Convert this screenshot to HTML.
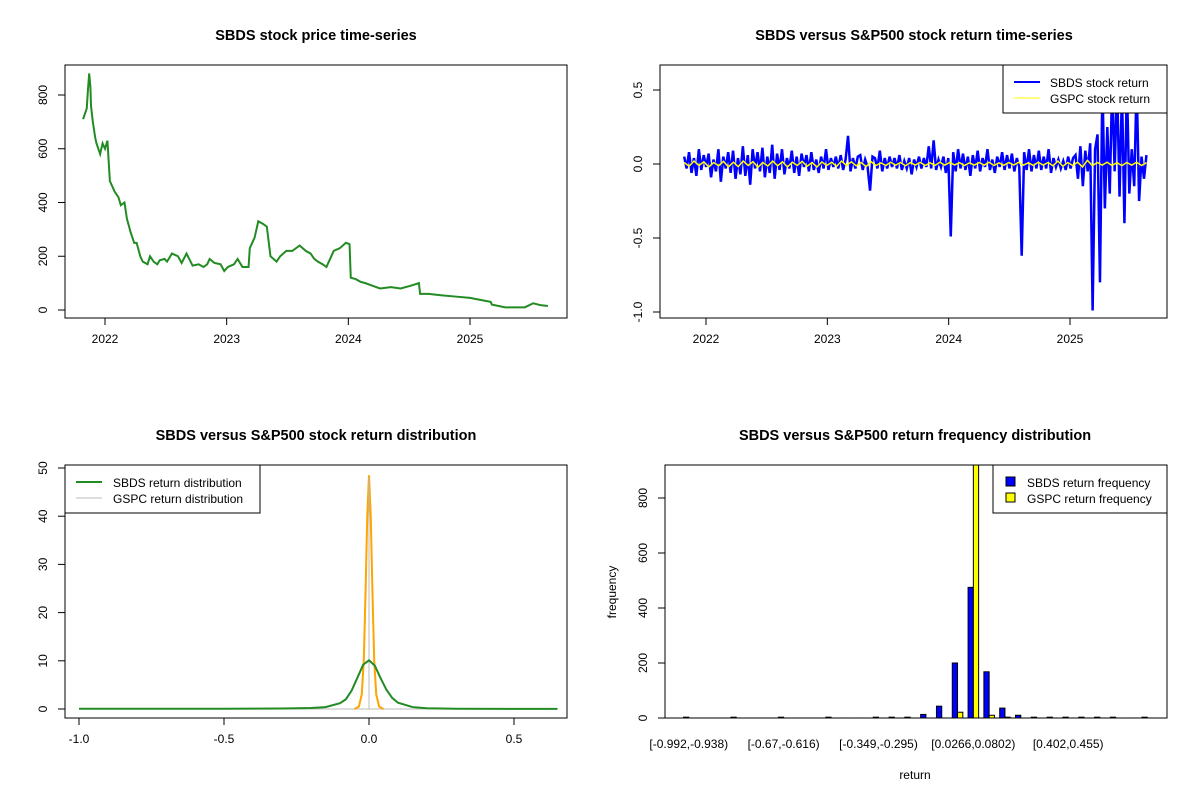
<!DOCTYPE html>
<html><head><meta charset="utf-8"><style>
body{margin:0;background:#fff}
text{font-family:"Liberation Sans",sans-serif;fill:#000}
</style></head><body>
<svg id="s" width="1200" height="800" xmlns="http://www.w3.org/2000/svg">
<defs>
<clipPath id="c1"><rect x="65" y="65" width="502" height="253"/></clipPath>
<clipPath id="c2"><rect x="660" y="65" width="507" height="253"/></clipPath>
<clipPath id="c3"><rect x="65" y="465" width="502" height="253"/></clipPath>
<clipPath id="c4"><rect x="665" y="465" width="502" height="253"/></clipPath>
</defs>
</svg>
<script>
const priceYears=[2021.82,2021.85,2021.86,2021.87,2021.88,2021.885,2021.90,2021.92,2021.93,2021.96,2021.98,2022.0,2022.02,2022.04,2022.07,2022.08,2022.11,2022.13,2022.16,2022.18,2022.21,2022.24,2022.26,2022.29,2022.31,2022.35,2022.37,2022.40,2022.43,2022.45,2022.49,2022.51,2022.55,2022.60,2022.63,2022.67,2022.72,2022.77,2022.81,2022.84,2022.86,2022.90,2022.95,2022.98,2023.01,2023.06,2023.09,2023.13,2023.18,2023.19,2023.23,2023.26,2023.30,2023.33,2023.36,2023.41,2023.44,2023.49,2023.54,2023.60,2023.65,2023.69,2023.72,2023.75,2023.79,2023.82,2023.85,2023.88,2023.93,2023.98,2024.01,2024.02,2024.06,2024.10,2024.14,2024.20,2024.26,2024.35,2024.43,2024.51,2024.58,2024.59,2024.66,2024.76,2024.88,2025.0,2025.17,2025.18,2025.29,2025.45,2025.52,2025.58,2025.64];
const prices=[710,750,820,880,830,760,700,640,620,580,620,600,630,480,450,440,420,390,400,340,290,250,250,200,180,170,200,180,170,185,190,180,210,200,175,210,165,170,160,170,190,175,170,145,160,170,190,160,160,230,270,330,320,310,200,180,200,220,220,240,220,210,190,180,170,160,190,220,230,250,245,120,115,105,100,90,80,85,80,90,100,60,60,55,50,45,30,20,10,10,25,18,15];
const priceTicks=[0,200,400,600,800];
const yearTicks=[2022,2023,2024,2025];
const retStart=2021.82, retEnd=2025.63;
const sbdsRet=[0.05,-0.03,0.08,-0.06,0.04,-0.08,0.1,-0.04,0.06,-0.02,0.07,-0.09,0.03,-0.05,0.1,-0.12,0.05,-0.03,0.08,-0.06,0.09,-0.1,0.04,-0.07,0.12,-0.08,0.06,-0.14,0.1,-0.03,0.08,-0.05,0.11,-0.09,0.05,-0.06,0.13,-0.1,0.07,-0.04,0.1,-0.07,0.04,-0.03,0.09,-0.06,0.05,-0.08,0.07,-0.02,0.06,-0.05,0.08,-0.04,0.03,-0.06,0.05,-0.03,0.1,-0.04,
0.04,-0.02,0.05,-0.03,0.06,-0.04,0.03,0.19,-0.05,0.04,-0.03,0.05,0.06,-0.04,0.03,-0.02,-0.18,0.05,0.04,-0.03,0.09,-0.05,0.04,-0.03,0.05,-0.02,0.04,-0.03,0.06,-0.04,0.02,-0.03,0.04,-0.07,0.03,-0.02,0.05,-0.03,0.04,-0.02,0.12,-0.03,0.16,-0.04,0.03,-0.02,0.05,-0.06,0.04,
-0.49,
0.08,-0.05,0.1,-0.03,0.07,-0.04,0.05,-0.08,0.06,-0.03,0.09,-0.05,0.04,-0.02,0.1,-0.04,0.03,-0.06,0.05,-0.02,0.08,-0.04,0.06,-0.03,0.07,-0.05,0.04,-0.02,
-0.62,
0.08,-0.04,0.1,-0.05,0.06,-0.03,0.09,-0.04,0.05,-0.03,0.1,-0.06,0.04,-0.02,0.03,-0.03,0.02,-0.04,0.05,-0.03,0.04,
0.06,-0.1,0.12,-0.15,0.09,-0.05,0.14,-0.99,0.1,0.2,-0.8,0.55,-0.3,0.25,-0.2,0.55,-0.05,0.55,-0.22,0.5,-0.4,0.55,-0.2,0.1,-0.15,0.55,-0.25,0.05,-0.1,0.06];
const gspcRet=[0.01,-0.015,0.02,-0.01,0.015,-0.02,0.01,-0.012,0.018,-0.02,0.012,-0.018,0.02,-0.01,0.016,-0.022,0.01,-0.014,0.02,-0.012,0.015,-0.02,0.012,-0.01,0.018,-0.015,0.01,-0.02,0.014,-0.01,0.012,-0.016,0.02,-0.01,0.015,-0.012,0.01,-0.018,0.016,-0.01,0.008,-0.01,0.012,-0.008,0.01,-0.012,0.009,-0.007,0.011,-0.01,0.008,-0.009,0.012,-0.008,0.01,-0.006,0.009,-0.01,0.008,-0.007,0.01,-0.008,0.012,-0.01,0.008,-0.009,0.01,-0.007,0.011,-0.008,0.009,-0.01,0.012,-0.008,0.01,-0.012,0.02,-0.015,0.01,-0.01,0.012,-0.02,0.025,-0.012,0.01,-0.008,0.012,-0.01,0.009,-0.011,0.01,-0.008,0.012,-0.01,0.009];
const retTicks=[0.5,0,-0.5,-1];
const retTickLabels=["0.5","0.0","-0.5","-1.0"];
const sbdsDensX=[-1.0,-0.5,-0.3,-0.2,-0.15,-0.1,-0.08,-0.06,-0.04,-0.02,0,0.02,0.04,0.06,0.08,0.1,0.15,0.2,0.3,0.65];
const sbdsDensY=[0.05,0.05,0.1,0.2,0.4,1.2,2.0,3.8,6.5,9.2,10.1,9.0,6.4,4.0,2.3,1.3,0.4,0.15,0.05,0.02];
const gspcDensX=[-0.05,-0.035,-0.025,-0.018,-0.012,-0.006,0,0.006,0.012,0.018,0.025,0.035,0.05];
const gspcDensY=[0,0.5,3,10,24,40,48.5,40,24,10,3,0.5,0];
const densYTicks=[0,10,20,30,40,50];
const densXTicks=[-1,-0.5,0,0.5];
const densXLabels=["-1.0","-0.5","0.0","0.5"];
const sbdsFreq=[3,0,0,3,0,0,3,0,0,3,0,0,3,3,3,13,43,200,475,168,36,10,3,3,3,3,3,3,0,3];
const gspcFreq=[0,0,0,0,0,0,0,0,0,0,0,0,0,0,0,0,0,21,950,10,3,0,0,0,0,0,0,0,0,0];
const binLabels=["[-0.992,-0.938)","","","","","","[-0.67,-0.616)","","","","","","[-0.349,-0.295)","","","","","","[0.0266,0.0802)","","","","","","[0.402,0.455)","","","","",""];
const freqTicks=[0,200,400,600,800];

const S=document.getElementById('s');
const NS='http://www.w3.org/2000/svg';
function el(tag,attrs,parent,txt){const e=document.createElementNS(NS,tag);for(const k in attrs)e.setAttribute(k,attrs[k]);if(txt!==undefined)e.textContent=txt;(parent||S).appendChild(e);return e;}
function lin(d0,d1,r0,r1){return v=>r0+(v-d0)*(r1-r0)/(d1-d0);}
function grp(name){const g=el('g',{});return g;}
function title(x,y,t,name){const e=el('text',{x:x,y:y,'text-anchor':'middle','font-size':'14.5','font-weight':'bold'},S,t);}
function box(x,y,w,h,name){const e=el('rect',{x:x,y:y,width:w,height:h,fill:'none',stroke:'#000','stroke-width':1});}
function xAxis(ticks,labels,sx,yb,name){const g=grp(name);ticks.forEach((t,i)=>{const x=sx(t);el('line',{x1:x,x2:x,y1:yb,y2:yb+7,stroke:'#000'},g);el('text',{x:x,y:yb+25,'text-anchor':'middle','font-size':'12'},g,labels[i]);});const xs=ticks.map(sx);el('line',{x1:Math.min(...xs),x2:Math.max(...xs),y1:yb,y2:yb,stroke:'#000'},g);}
function yAxis(ticks,labels,sy,xl,name){const g=grp(name);ticks.forEach((t,i)=>{const y=sy(t);el('line',{x1:xl-7,x2:xl,y1:y,y2:y,stroke:'#000'},g);el('text',{x:xl-18,y:y,'text-anchor':'middle','font-size':'12',transform:`rotate(-90 ${xl-18} ${y})`},g,labels[i]);});const ys=ticks.map(sy);el('line',{x1:xl,x2:xl,y1:Math.min(...ys),y2:Math.max(...ys),stroke:'#000'},g);}

// Panel 1
title(316,40,'SBDS stock price time-series','price-chart-title');
{const sx=lin(2022,2025,105,470), sy=lin(0,800,310,95);
const g=grp('price-line-group');g.setAttribute('clip-path','url(#c1)');
const p=el('polyline',{points:priceYears.map((y,i)=>sx(y)+','+sy(prices[i])).join(' '),fill:'none',stroke:'#228b22','stroke-width':2},g);

box(65,65,502,253,'price-plot-box');
xAxis(yearTicks,yearTicks.map(String),sx,318,'price-x-axis');
yAxis(priceTicks,priceTicks.map(String),sy,65,'price-y-axis');}

// Panel 2
title(914,40,'SBDS versus S&P500 stock return time-series','return-chart-title');
{const sx=lin(2022,2025,706,1070), sy=lin(0,-1,164,312);
const g=grp('return-lines-group');g.setAttribute('clip-path','url(#c2)');
const n=sbdsRet.length;
const p1=el('polyline',{points:sbdsRet.map((v,i)=>sx(retStart+(retEnd-retStart)*i/(n-1))+','+sy(v)).join(' '),fill:'none',stroke:'#0000ff','stroke-width':2.5},g);

const m=gspcRet.length;
const p2=el('polyline',{points:gspcRet.map((v,i)=>sx(retStart+(retEnd-retStart)*i/(m-1))+','+sy(v)).join(' '),fill:'none',stroke:'#ffff00','stroke-width':1.5},g);

box(660,65,507,253,'return-plot-box');
xAxis(yearTicks,yearTicks.map(String),sx,318,'return-x-axis');
yAxis(retTicks,retTickLabels,sy,660,'return-y-axis');
const lg=grp('return-legend');
el('rect',{x:1003,y:65,width:164,height:48,fill:'#fff',stroke:'#000'},lg);
el('line',{x1:1014,x2:1040,y1:82,y2:82,stroke:'#0000ff','stroke-width':2},lg);
el('text',{x:1050,y:87,'font-size':'12'},lg,'SBDS stock return');
el('line',{x1:1014,x2:1040,y1:98,y2:98,stroke:'#ffff00','stroke-width':1},lg);
el('text',{x:1050,y:103,'font-size':'12'},lg,'GSPC stock return');}

// Panel 3
title(316,440,'SBDS versus S&P500 stock return distribution','density-chart-title');
{const sx=lin(0,1,369,659), sy=lin(0,50,709,468);
const g=grp('density-lines-group');g.setAttribute('clip-path','url(#c3)');
const b=el('line',{x1:sx(-1),x2:sx(0.65),y1:sy(0),y2:sy(0),stroke:'#bbbbbb','stroke-width':1},g);

const p2=el('polyline',{points:gspcDensX.map((x,i)=>sx(x)+','+sy(gspcDensY[i])).join(' '),fill:'none',stroke:'#ffa500','stroke-width':2},g);

const p3=el('line',{x1:sx(0),x2:sx(0),y1:sy(0),y2:sy(48),stroke:'#bbbbbb','stroke-width':1},g);

const p1=el('polyline',{points:sbdsDensX.map((x,i)=>sx(x)+','+sy(sbdsDensY[i])).join(' '),fill:'none',stroke:'#228b22','stroke-width':2},g);

box(65,465,502,253,'density-plot-box');
xAxis(densXTicks,densXLabels,sx,718,'density-x-axis');
yAxis(densYTicks,densYTicks.map(String),sy,65,'density-y-axis');
const lg=grp('density-legend');
el('rect',{x:65,y:465,width:195,height:48,fill:'#fff',stroke:'#000'},lg);
el('line',{x1:76,x2:102,y1:482,y2:482,stroke:'#228b22','stroke-width':2},lg);
el('text',{x:113,y:487,'font-size':'12'},lg,'SBDS return distribution');
el('line',{x1:76,x2:102,y1:498,y2:498,stroke:'#bbbbbb','stroke-width':1},lg);
el('text',{x:113,y:503,'font-size':'12'},lg,'GSPC return distribution');}

// Panel 4
title(915,440,'SBDS versus S&P500 return frequency distribution','histogram-chart-title');
{const u=5.27, x0=683.5-u, sy=lin(0,200,718,663);
const g=grp('histogram-bars');g.setAttribute('clip-path','url(#c4)');
const ax=grp('histogram-x-labels');
sbdsFreq.forEach((v,i)=>{const st=x0+u*(3*i+1);
 const hb=Math.max(sy(0)-sy(v),0.01);
 const b=el('rect',{x:st,y:sy(0)-hb,width:u,height:hb,fill:'#0000ff',stroke:'#000','stroke-width':1},g);
 
 const w=gspcFreq[i];
 const hy=Math.max(sy(0)-sy(w),0.01);
 const c=el('rect',{x:st+u,y:sy(0)-hy,width:u,height:hy,fill:'#ffff00',stroke:'#000','stroke-width':1},g);
 
 if(binLabels[i])el('text',{x:st+u,y:748,'text-anchor':'middle','font-size':'12'},ax,binLabels[i]);});
box(665,465,502,253,'histogram-plot-box');
yAxis(freqTicks,freqTicks.map(String),sy,665,'histogram-y-axis');
const xl=el('text',{x:915,y:779,'text-anchor':'middle','font-size':'12'},S,'return');
const yl=el('text',{x:616,y:592,'text-anchor':'middle','font-size':'12',transform:'rotate(-90 616 592)'},S,'frequency');
const lg=grp('histogram-legend');
el('rect',{x:993,y:465,width:174,height:48,fill:'#fff',stroke:'#000'},lg);
el('rect',{x:1006,y:477,width:9,height:9,fill:'#0000ff',stroke:'#000'},lg);
el('text',{x:1027,y:487,'font-size':'12'},lg,'SBDS return frequency');
el('rect',{x:1006,y:493,width:9,height:9,fill:'#ffff00',stroke:'#000'},lg);
el('text',{x:1027,y:503,'font-size':'12'},lg,'GSPC return frequency');}
</script>
</body></html>
